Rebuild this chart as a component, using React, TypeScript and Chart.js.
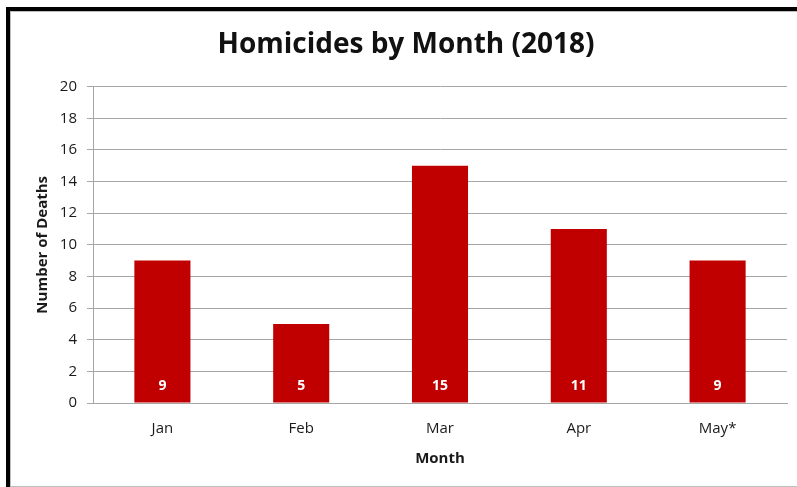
import React, { useEffect, useRef } from "react";
import { Chart, registerables } from "chart.js";

Chart.register(...registerables);

const months = ["Jan", "Feb", "Mar", "Apr", "May*"];
const deaths = [9, 5, 15, 11, 9];
const chartTitle = "Homicides by Month (2018)";
const xTitle = "Month";
const yTitle = "Number of Deaths";
const yMin = 0;
const yMax = 20;
const yStep = 2;

const FONT = "'Open Sans', sans-serif";
const TEXT = "#1a1a1a";
const GRID = "#a6a6a6";
const BAR = "#c00000";

const barLabels = {
  id: "barLabels",
  afterDatasetsDraw(chart: any) {
    const ctx = chart.ctx;
    const meta = chart.getDatasetMeta(0);
    const ds = chart.data.datasets[0];
    ctx.save();
    ctx.fillStyle = "#ffffff";
    ctx.font = `bold 14px ${FONT}`;
    ctx.textAlign = "center";
    ctx.textBaseline = "middle";
    meta.data.forEach((el: any, i: number) => {
      ctx.fillText(String(ds.data[i]), el.x, el.base - 16);
    });
    ctx.restore();
  },
};

export default function App() {
  const ref = useRef<HTMLCanvasElement | null>(null);

  useEffect(() => {
    if (!ref.current) return;
    const chart = new Chart(ref.current, {
      type: "bar",
      data: {
        labels: months,
        datasets: [
          {
            data: deaths,
            backgroundColor: BAR,
            borderWidth: 0,
            categoryPercentage: 1,
            barPercentage: 0.404,
          },
        ],
      },
      options: {
        responsive: false,
        animation: false,
        layout: { padding: { left: 25, right: 10, top: 11, bottom: 1 } },
        plugins: {
          legend: { display: false },
          tooltip: { enabled: false },
          title: {
            display: true,
            text: chartTitle,
            color: "#111",
            font: { family: FONT, size: 28, weight: "bold", lineHeight: 1.2 },
            padding: { top: 17, bottom: 25 },
          },
        },
        scales: {
          x: {
            grid: { display: false, drawTicks: false },
            border: { display: true, color: GRID, width: 1 },
            ticks: { color: TEXT, font: { family: FONT, size: 15 }, padding: 17 },
            title: {
              display: true,
              text: xTitle,
              color: TEXT,
              font: { family: FONT, size: 15, weight: "bold", lineHeight: 1.2 },
              padding: { top: 0, bottom: 18 },
            },
            afterFit(scale: any) {
              scale.height = 83;
            },
          },
          y: {
            min: yMin,
            max: yMax,
            ticks: {
              stepSize: yStep,
              color: TEXT,
              font: { family: FONT, size: 15 },
              padding: 10,
            },
            grid: { color: GRID, lineWidth: 1, tickLength: 6, drawTicks: true },
            border: { display: true, color: GRID, width: 1 },
            title: {
              display: true,
              text: yTitle,
              color: TEXT,
              font: { family: FONT, size: 15, weight: "bold", lineHeight: 1.2 },
              padding: { top: 9, bottom: 0 },
            },
            afterFit(scale: any) {
              scale.width = 68;
            },
          },
        },
      } as any,
      plugins: [barLabels],
    });
    return () => chart.destroy();
  }, []);

  return (
    <div
      style={{
        position: "fixed",
        left: 0,
        top: 0,
        width: 797,
        height: 487,
        background: "#ffffff",
        overflow: "hidden",
      }}
    >
      <canvas ref={ref} width={797} height={487} style={{ position: "absolute", left: 0, top: 0 }} />
      <div style={{ position: "absolute", left: 6, top: 7, width: 791, height: 4, background: "#000" }} />
      <div style={{ position: "absolute", left: 10, top: 11, width: 787, height: 1, background: "#bdbdbd" }} />
      <div style={{ position: "absolute", left: 6, top: 7, width: 4, height: 480, background: "#000" }} />
      <div style={{ position: "absolute", left: 10, top: 11, width: 1, height: 476, background: "#bdbdbd" }} />
      <div style={{ position: "absolute", left: 10, top: 486, width: 787, height: 1, background: "#bdbdbd" }} />
    </div>
  );
}
